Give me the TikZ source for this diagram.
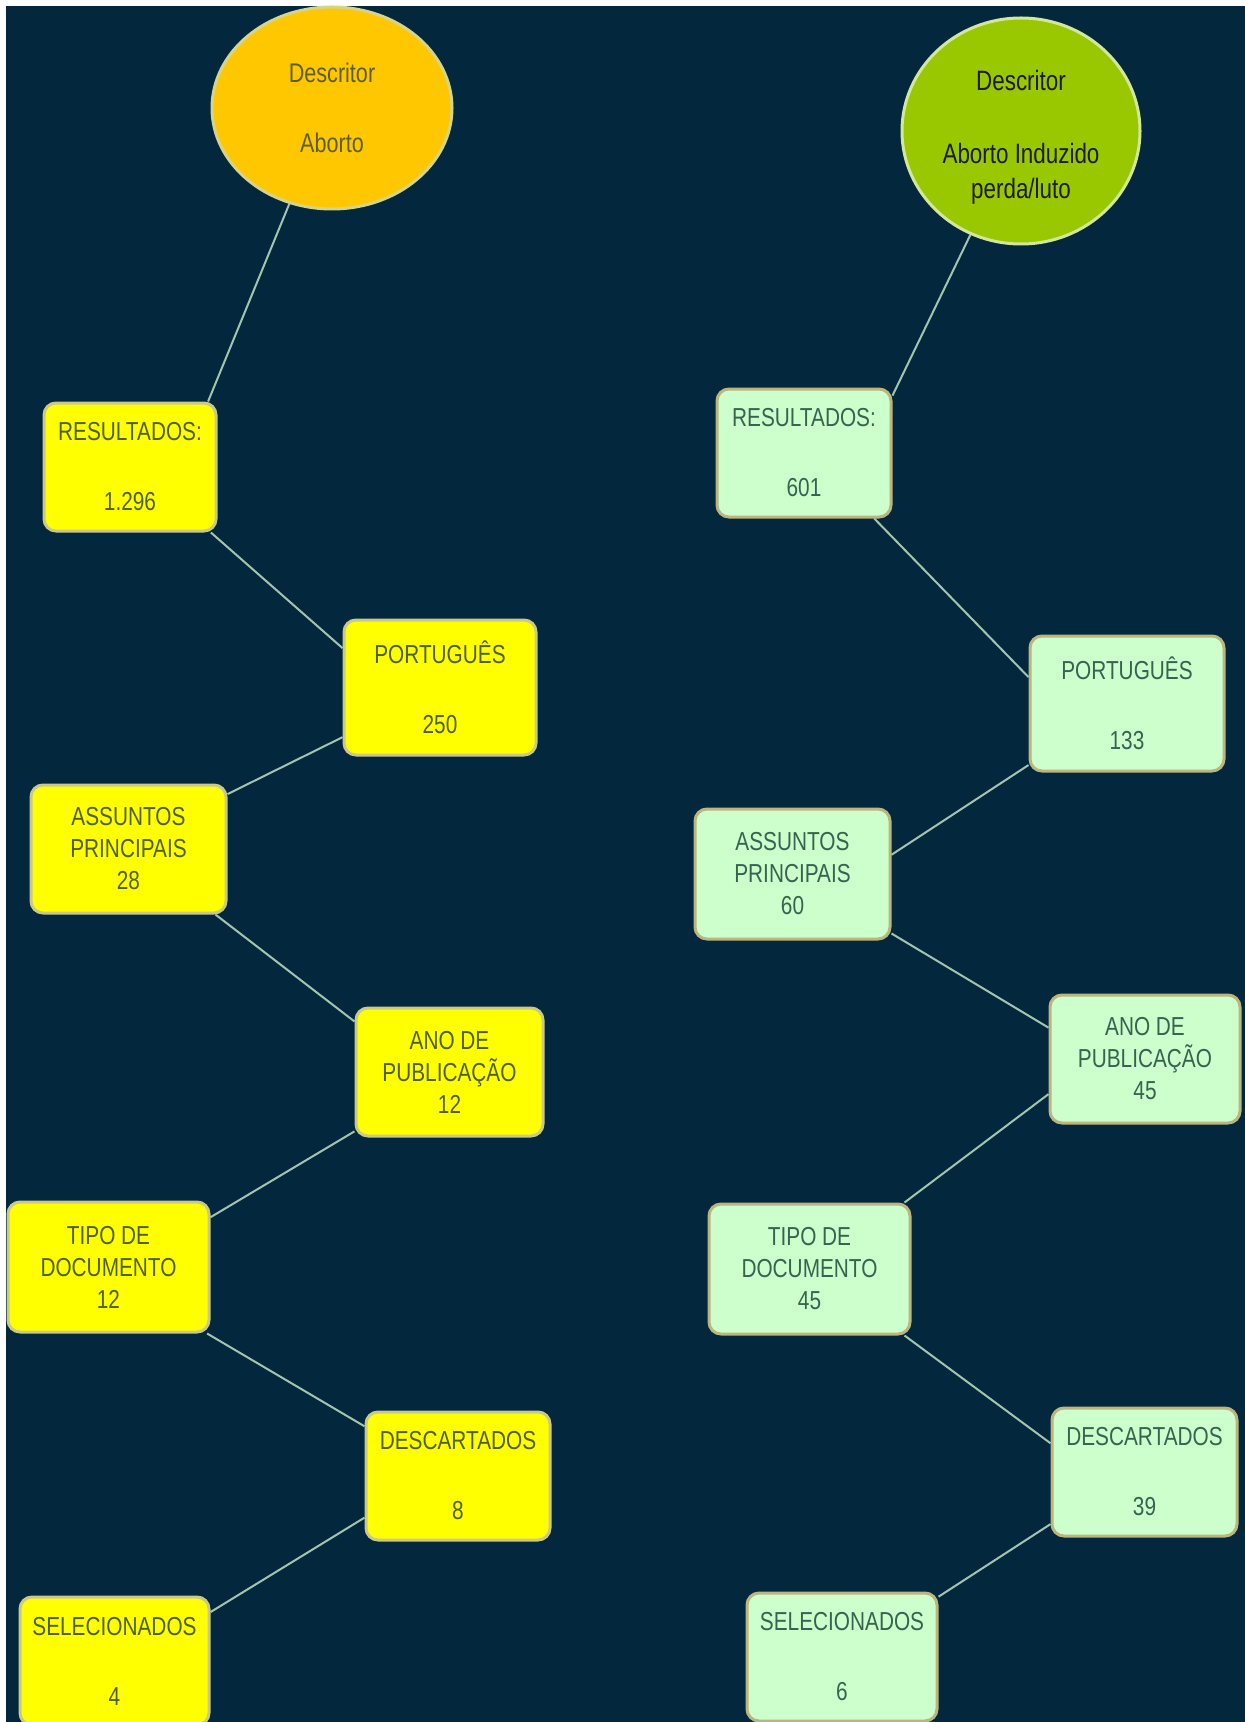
\documentclass[tikz,border=0pt]{standalone}
\usepackage{fontspec}
\setmainfont{Liberation Sans}[FakeStretch=0.8]
\usetikzlibrary{shapes.geometric}
\definecolor{bg}{HTML}{03283D}
\definecolor{lineC}{HTML}{A3C4AE}
\definecolor{yelFill}{HTML}{FFFF00}
\definecolor{yelBorder}{HTML}{CBC98A}
\definecolor{yelText}{HTML}{4F601A}
\definecolor{grnFill}{HTML}{CCFFCC}
\definecolor{grnBorder}{HTML}{BDB57E}
\definecolor{grnText}{HTML}{37644E}
\definecolor{ambFill}{HTML}{FFC700}
\definecolor{ambBorder}{HTML}{D6D48A}
\definecolor{ambText}{HTML}{5E5E24}
\definecolor{limeFill}{HTML}{99C800}
\definecolor{limeBorder}{HTML}{D2E69C}
\definecolor{limeText}{HTML}{1C1C1C}
\tikzset{
  boxbase/.style={rectangle, rounded corners=6pt, line width=1.5pt, inner sep=0pt,
    align=center, font=\fontsize{13}{16}\selectfont},
  ybox/.style={boxbase, fill=yelFill, draw=yelBorder, text=yelText},
  gbox/.style={boxbase, fill=grnFill, draw=grnBorder, text=grnText},
  link/.style={draw=lineC, line width=1pt},
}
\begin{document}
\begin{tikzpicture}[x=0.5pt,y=-0.5pt]
\useasboundingbox (0,0) rectangle (1245,1722);
\fill[white] (0,0) rectangle (1245,1722);
\fill[bg] (6,6) rectangle (1245,1722);
\begin{scope}
\clip (6,6) rectangle (1245,1722);
% Ellipses
\node[ellipse, minimum width=120pt, minimum height=101pt, inner sep=0pt, fill=ambFill, draw=ambBorder, line width=1.5pt, text=ambText, align=center, font=\fontsize{13.5}{16}\selectfont] (e1) at (332,108) {Descritor\\[19pt]Aborto};
\node[ellipse, minimum width=119pt, minimum height=113pt, inner sep=0pt, fill=limeFill, draw=limeBorder, line width=1.5pt, text=limeText, font=\fontsize{14}{17.5}\selectfont] (e2) at (1021,131) {\raisebox{-3.5pt}[\height][\depth]{\begin{tabular}{@{}c@{}}Descritor\\[19pt]Aborto Induzido\\perda/luto\end{tabular}}};
% Left column
\node[ybox, minimum width=86pt, minimum height=64pt] (r1) at (130,467) {RESULTADOS:\\[19pt]1.296};
\node[ybox, minimum width=96pt, minimum height=67.5pt] (p1) at (440,687.5) {PORTUGUÊS\\[19pt]250};
\node[ybox, minimum width=97.5pt, minimum height=64pt] (a1) at (128.5,849) {ASSUNTOS\\PRINCIPAIS\\28};
\node[ybox, minimum width=93.5pt, minimum height=64pt] (an1) at (449.5,1072) {ANO DE\\PUBLICAÇÃO\\12};
\node[ybox, minimum width=100.5pt, minimum height=65pt] (t1) at (108.5,1267) {TIPO DE\\DOCUMENTO\\12};
\node[ybox, minimum width=92pt, minimum height=64pt] (d1) at (458,1476) {DESCARTADOS\\[19pt]8};
\node[ybox, minimum width=94.5pt, minimum height=64pt] (s1) at (114.5,1661) {SELECIONADOS\\[19pt]4};
% Right column
\node[gbox, minimum width=87pt, minimum height=64pt] (r2) at (804,453) {RESULTADOS:\\[19pt]601};
\node[gbox, minimum width=97pt, minimum height=67.5pt] (p2) at (1127,703.5) {PORTUGUÊS\\[19pt]133};
\node[gbox, minimum width=97.5pt, minimum height=65pt] (a2) at (792.5,874) {ASSUNTOS\\PRINCIPAIS\\60};
\node[gbox, minimum width=95pt, minimum height=64pt] (an2) at (1145,1059) {ANO DE\\PUBLICAÇÃO\\45};
\node[gbox, minimum width=100.5pt, minimum height=65pt] (t2) at (809.5,1269) {TIPO DE\\DOCUMENTO\\45};
\node[gbox, minimum width=92.5pt, minimum height=64pt] (d2) at (1144.5,1472) {DESCARTADOS\\[19pt]39};
\node[gbox, minimum width=95pt, minimum height=64pt] (s2) at (842,1657) {SELECIONADOS\\[19pt]6};
% Connectors left
\draw[link] (e1.246.6) -- (r1.40.5);
\draw[link] (r1.-39) -- (p1.158.7);
\draw[link] (p1.207.7) -- (a1.29.9);
\draw[link] (a1.-37.8) -- (an1.152.8);
\draw[link] (an1.212.3) -- (t1.26.9);
\draw[link] (t1.-34.7) -- (d1.152);
\draw[link] (d1.204) -- (s1.27.4);
% Connectors right
\draw[link] (e2.244.5) -- (r2.33.1);
\draw[link] (r2.-43.7) -- (p2.165.3);
\draw[link] (p2.212.4) -- (a2.11);
\draw[link] (a2.-31.2) -- (an2.162.5);
\draw[link] (an2.200.8) -- (t2.35.1);
\draw[link] (t2.-35.1) -- (d2.163.2);
\draw[link] (d2.209.8) -- (s2.32.3);
\end{scope}
\end{tikzpicture}
\end{document}
